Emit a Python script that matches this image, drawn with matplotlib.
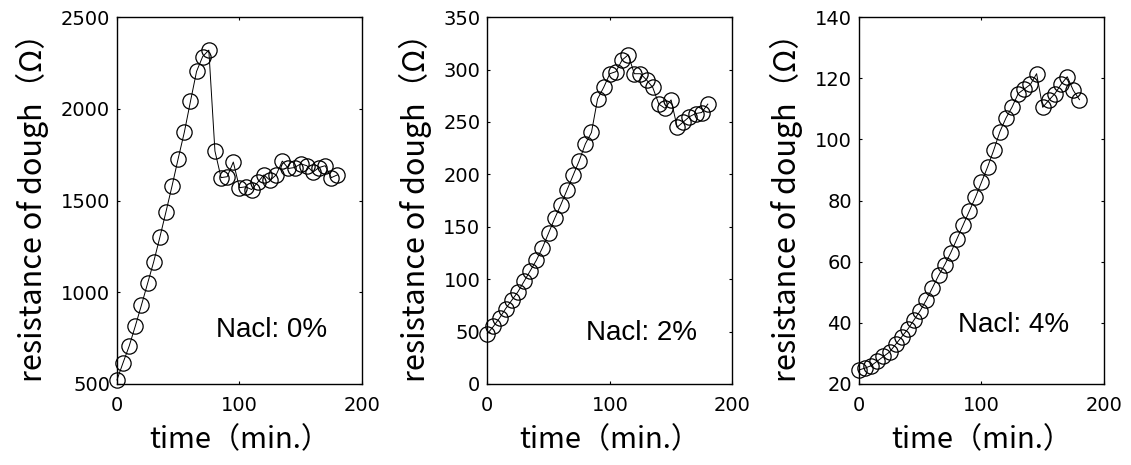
import matplotlib
matplotlib.use("Agg")
import matplotlib.pyplot as plt

# sampling times (min.)
time = [0, 5, 10, 15, 20, 25, 30, 35, 40, 45, 50, 55, 60, 65, 70, 75, 80, 85, 90,
        95, 100, 105, 110, 115, 120, 125, 130, 135, 140, 145, 150, 155, 160, 165,
        170, 175, 180]

# resistance of dough (ohm), one list per salt content
nacl_0 = [522, 616, 707, 816, 930, 1048, 1166, 1299, 1438, 1580, 1729, 1872, 2040,
          2204, 2285, 2320, 1770, 1625, 1630, 1710, 1570, 1575, 1560, 1600, 1640,
          1610, 1640, 1715, 1675, 1680, 1700, 1690, 1655, 1680, 1690, 1625, 1640]
nacl_2 = [48, 55, 63, 72, 80, 88, 98, 108, 118, 130, 144, 158, 171, 185, 199, 213,
          229, 240, 272, 283, 296, 298, 309, 314, 296, 296, 290, 283, 267, 263, 271,
          245, 250, 255, 258, 259, 267]
nacl_4 = [24.6, 25.2, 26, 27.5, 29, 30.5, 33, 35.5, 38, 41, 44, 47.5, 51.5, 55.5,
          59, 63, 67.5, 72, 76.5, 81, 86, 91, 96.5, 102.5, 107, 110.6, 115, 116.5,
          118, 121.5, 110.5, 112.8, 115, 118, 120.5, 116, 113]

labels = ["Nacl: 0%", "Nacl: 2%", "Nacl: 4%"]
ylims = [(500, 2500), (0, 350), (20, 140)]
yticks = [[500, 1000, 1500, 2000, 2500],
          [0, 50, 100, 150, 200, 250, 300, 350],
          [20, 40, 60, 80, 100, 120, 140]]
series = [nacl_0, nacl_2, nacl_4]

lefts = [0.1034, 0.4309, 0.7595]
text_pos = [(0.63, 0.147), (0.628, 0.138), (0.632, 0.161)]
ylab_x = [32, 415, 786]

jp = ["Noto Sans CJK JP", "DejaVu Sans"]
num = ["DejaVu Sans"]
txt = ["Liberation Sans", "DejaVu Sans"]

fig = plt.figure(figsize=(11.31, 4.65), dpi=100)

for i in range(3):
    ax = fig.add_axes([lefts[i], 0.1742, 0.2166, 0.789])
    ax.plot(time, series[i], color="black", lw=0.7, marker="o", ms=11,
            mfc="none", mec="black", mew=0.9, clip_on=False)
    ax.set_xlim(0, 200)
    ax.set_ylim(*ylims[i])
    ax.set_xticks([0, 100, 200])
    ax.set_yticks(yticks[i])
    ax.tick_params(direction="in", top=True, right=True, length=2.5, width=0.8,
                   labelsize=14)
    ax.tick_params(axis="x", pad=9)
    ax.tick_params(axis="y", pad=5)
    for lab in ax.get_xticklabels() + ax.get_yticklabels():
        lab.set_family(num)
    for s in ax.spines.values():
        s.set_linewidth(1.0)
    ax.text(text_pos[i][0], text_pos[i][1], labels[i], transform=ax.transAxes,
            ha="center", va="center", fontsize=20, family=txt)
    # axis titles placed in figure pixels
    axpos = ax.get_position()
    fig.text(axpos.x0 + axpos.width / 2, 1 - 440 / 465, "time（min.）",
             ha="center", va="center", fontsize=21, family=jp)
    fig.text(ylab_x[i] / 1131, axpos.y0 + axpos.height / 2,
             "resistance of dough（Ω）", rotation=90, ha="center", va="center",
             fontsize=22, family=jp)

fig.savefig("out.png", dpi=100)
